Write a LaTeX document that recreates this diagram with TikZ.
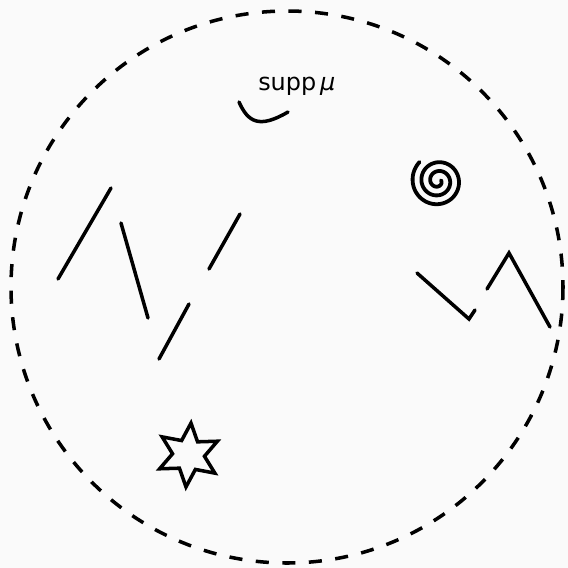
\documentclass[tikz,border=0pt]{standalone}
\usepackage{fontspec}
\setmainfont{DejaVu Sans}
\usetikzlibrary{positioning}

\begin{document}
\begin{tikzpicture}[x=0.025cm, y=-0.025cm, font=\fontsize{17}{20}\selectfont]
    \tikzset{
        boundary/.style={line width=2.5pt, dash pattern=on 9.3pt off 9.6pt},
        piece/.style={line width=2.5pt, line cap=round},
        spiralline/.style={line width=2.7pt, line cap=round},
        starline/.style={line width=2.5pt, line join=miter}
    }
    \fill[black!2] (0,0) rectangle (568,568);
    \useasboundingbox (0,0) rectangle (568,568);
    \draw[boundary] (287,287) circle[radius=276];
    \node[anchor=base west, inner sep=0pt] (supplabel) at (258,90) {supp\,\textit{μ}};
    \draw[piece] (239,102) .. controls (248,122) and (259,129) .. (288,112);
    \draw[piece] (58,279) -- (111,188);
    \draw[piece] (121,223) -- (148,318);
    \draw[piece] (240,214) -- (209,269);
    \draw[piece] (189,304) -- (159,359);
    \draw[piece] (417,273) -- (469,319) -- (475,310);
    \draw[piece] (487,289) -- (509,253) -- (550,327);
    \draw[spiralline] plot[domain=0:960, samples=200, smooth]
        ({438+26.5*(1-\x/1080)*cos(134+\x)}, {181-26.5*(1-\x/1080)*sin(134+\x)});
    \begin{scope}[shift={(188.5,455)}, yscale=-1]
        \draw[starline] (85.5:32) \foreach \k in {0,...,5} {
            -- (115.5+60*\k:16) -- (145.5+60*\k:32)} -- cycle;
    \end{scope}
\end{tikzpicture}
\end{document}
